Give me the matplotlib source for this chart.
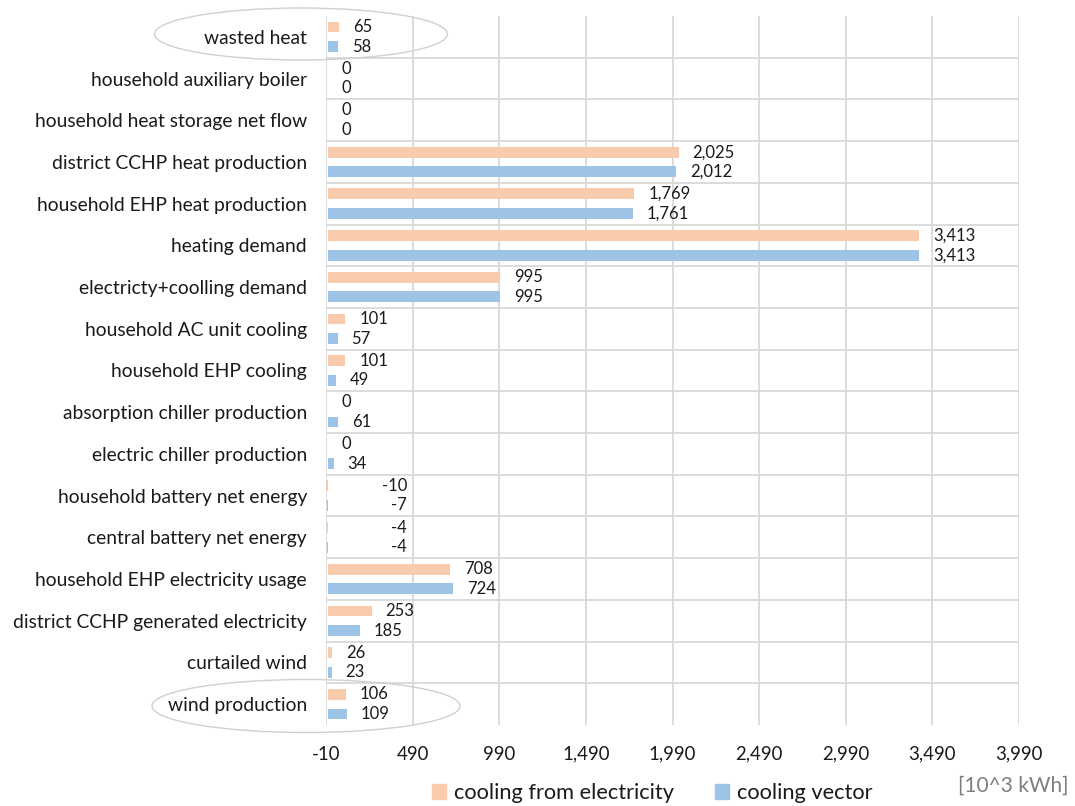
import matplotlib.pyplot as plt
from matplotlib.patches import Ellipse, Patch

categories = [
    "wasted heat",
    "household auxiliary boiler",
    "household heat storage net flow",
    "district CCHP heat production",
    "household EHP heat production",
    "heating demand",
    "electricty+coolling demand",
    "household AC unit cooling",
    "household EHP cooling",
    "absorption chiller production",
    "electric chiller production",
    "household battery net energy",
    "central battery net energy",
    "household EHP electricity usage",
    "district CCHP generated electricity",
    "curtailed wind",
    "wind production",
]
from_electricity = [65, 0, 0, 2025, 1769, 3413, 995, 101, 101, 0, 0, -10, -4, 708, 253, 26, 106]
cooling_vector = [58, 0, 0, 2012, 1761, 3413, 995, 57, 49, 61, 34, -7, -4, 724, 185, 23, 109]
ticks = [-10, 490, 990, 1490, 1990, 2490, 2990, 3490, 3990]

orange = "#F8CBAD"
blue = "#9DC3E6"
grid = "#D9D9D9"
txt = "#1a1a1a"
plt.rcParams['font.family'] = ['Lato', 'DejaVu Sans']

fig = plt.figure(figsize=(10.75, 8.06), dpi=100)
ax = fig.add_axes([326 / 1075, 1 - 725 / 806, (1019 - 326) / 1075, (725 - 16) / 806])

n = len(categories)
ypos = list(range(n))
h = 0.26
off = 0.235
ax.barh([y - off for y in ypos], from_electricity, height=h, color=orange, zorder=3)
ax.barh([y + off for y in ypos], cooling_vector, height=h, color=blue, zorder=3)


def put_label(v, y):
    s = f"{v:,}"
    if v < 0:
        ax.annotate(s, (0, y), xytext=(57, 0), textcoords="offset points",
                    ha="right", va="center", fontsize=12, color=txt)
    else:
        ax.annotate(s, (v, y), xytext=(10, 0), textcoords="offset points",
                    ha="left", va="center", fontsize=12, color=txt)


for i in range(n):
    put_label(from_electricity[i], i - off)
    put_label(cooling_vector[i], i + off)

ax.set_xlim(-10, 3990)
ax.set_ylim(n - 0.5, -0.5)
ax.set_xticks(ticks)
ax.set_xticklabels([f"{t:,}" for t in ticks], fontsize=13.4, color=txt)
ax.set_yticks(ypos)
ax.set_yticklabels(categories, fontsize=13.9, color=txt)
ax.tick_params(length=0)
ax.tick_params(axis="y", pad=13.7)
ax.tick_params(axis="x", pad=15)
for s in ax.spines.values():
    s.set_visible(False)
for t in ticks:
    ax.axvline(t, color=grid, lw=1.3, zorder=1)
for i in range(n - 1):
    ax.axhline(i + 0.5, color=grid, lw=1.3, zorder=1)

# ellipses around highlighted categories (pixel coords)
for cx, cy, w, hh in [(301, 34, 293, 52), (306, 706, 308, 53)]:
    e = Ellipse((cx, 806 - cy), w, hh, transform=None, fill=False,
                edgecolor="#D0D0D0", lw=1.0)
    fig.patches.append(e)

handles = [Patch(color=orange, label="cooling from electricity"),
           Patch(color=blue, label="cooling vector")]
fig.legend(handles=handles, loc="center", bbox_to_anchor=(652 / 1075, 1 - 793 / 806),
           ncol=2, frameon=False, fontsize=15.7, handlelength=0.65, handleheight=0.65,
           handletextpad=0.35, columnspacing=1.9, labelcolor=txt)
fig.text(1068 / 1075, 1 - 786 / 806, "[10^3 kWh]", ha="right", va="center",
         fontsize=15, color="#7F7F7F")

fig.savefig("out.png", dpi=100)
